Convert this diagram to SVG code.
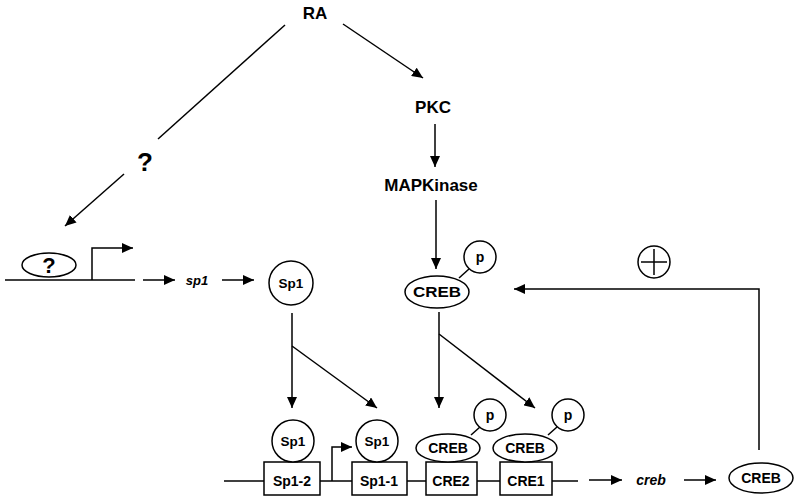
<svg xmlns="http://www.w3.org/2000/svg" width="800" height="502" viewBox="0 0 800 502">
<defs>
<marker id="ah" markerUnits="userSpaceOnUse" markerWidth="12" markerHeight="10" refX="11" refY="5" orient="auto">
<path d="M0,0 L11,5 L0,10 z" fill="#000"/>
</marker>
<style>
.ln{stroke:#000;stroke-width:1.5;fill:none}
.ar{stroke:#000;stroke-width:1.5;fill:none;marker-end:url(#ah)}
.sh{stroke:#000;stroke-width:1.5;fill:#fff}
text{font-family:"Liberation Sans",Arial,sans-serif;font-weight:bold;fill:#000;text-anchor:middle}
.it{font-style:italic}
</style>
</defs>
<rect width="800" height="502" fill="#fff"/>

<g id="connectors">
<line class="ln" x1="285" y1="25" x2="158" y2="139"/>
<line class="ar" x1="124" y1="174" x2="65" y2="226"/>
<line class="ar" x1="343" y1="24" x2="423" y2="78"/>
<line class="ar" x1="435" y1="124" x2="435" y2="167"/>
<line class="ar" x1="436" y1="200" x2="436" y2="269"/>
<line class="ar" x1="143" y1="280" x2="175" y2="280"/>
<line class="ar" x1="222" y1="280" x2="254" y2="280"/>
<line class="ar" x1="292" y1="313" x2="292" y2="408"/>
<line class="ar" x1="292" y1="346" x2="377" y2="408"/>
<line class="ar" x1="439" y1="312" x2="439" y2="408"/>
<line class="ar" x1="439" y1="334" x2="535" y2="408"/>
<line class="ar" x1="589" y1="480" x2="622" y2="480"/>
<line class="ar" x1="684" y1="480" x2="716" y2="480"/>
<polyline class="ar" points="759,450 759,289 514,289"/>
</g>

<g id="RA"><text x="315" y="19" font-size="17">RA</text></g>
<g id="unknown"><text x="145" y="171" font-size="26">?</text></g>
<g id="PKC"><text x="433" y="113" font-size="17">PKC</text></g>
<g id="MAPKinase"><text x="431" y="191" font-size="17">MAPKinase</text></g>

<g id="sp1-gene">
<line class="ln" x1="5" y1="280" x2="135" y2="280"/>
<ellipse class="sh" cx="49" cy="265" rx="27" ry="12"/>
<text x="49" y="273" font-size="22">?</text>
<polyline class="ar" points="92,280 92,248 133,248"/>
</g>
<g id="sp1-mrna"><text class="it" x="197" y="285" font-size="13">sp1</text></g>
<g id="Sp1-protein">
<circle class="sh" cx="291" cy="283" r="22"/>
<text x="291" y="288" font-size="13.5">Sp1</text>
</g>

<g id="pCREB">
<line class="ln" x1="459" y1="278" x2="469" y2="269"/>
<ellipse class="sh" cx="437" cy="292" rx="32" ry="16"/>
<text x="437" y="297" font-size="15" textLength="48" lengthAdjust="spacingAndGlyphs">CREB</text>
<circle class="sh" cx="480" cy="257" r="16"/>
<text x="480" y="262" font-size="14">p</text>
</g>

<g id="plus">
<circle class="sh" cx="654" cy="262" r="16"/>
<line class="ln" x1="641" y1="262" x2="667" y2="262"/>
<line class="ln" x1="654" y1="249" x2="654" y2="275"/>
</g>

<g id="creb-promoter">
<line class="ln" x1="224" y1="481" x2="578" y2="481"/>
<rect class="sh" x="264" y="462" width="56" height="33"/>
<text x="292" y="486" font-size="14">Sp1-2</text>
<rect class="sh" x="352" y="462" width="55" height="33"/>
<text x="379" y="486" font-size="14">Sp1-1</text>
<rect class="sh" x="426" y="462" width="51" height="33"/>
<text x="451" y="486" font-size="14">CRE2</text>
<rect class="sh" x="500" y="462" width="52" height="33"/>
<text x="526" y="486" font-size="14">CRE1</text>
<polyline class="ar" points="332,481 332,447 352,447"/>
</g>

<g id="Sp1-on-Sp1-2">
<circle class="sh" cx="293" cy="441" r="21"/>
<text x="293" y="446" font-size="13.5">Sp1</text>
</g>
<g id="Sp1-on-Sp1-1">
<circle class="sh" cx="377" cy="441" r="21"/>
<text x="377" y="446" font-size="13.5">Sp1</text>
</g>
<g id="pCREB-on-CRE2">
<line class="ln" x1="471" y1="435" x2="480" y2="427"/>
<ellipse class="sh" cx="448" cy="448" rx="32" ry="14"/>
<text x="448" y="453" font-size="14">CREB</text>
<circle class="sh" cx="490" cy="415" r="16"/>
<text x="490" y="420" font-size="14">p</text>
</g>
<g id="pCREB-on-CRE1">
<line class="ln" x1="548" y1="435" x2="557" y2="427"/>
<ellipse class="sh" cx="525" cy="448" rx="32" ry="14"/>
<text x="525" y="453" font-size="14">CREB</text>
<circle class="sh" cx="568" cy="415" r="16"/>
<text x="568" y="420" font-size="14">p</text>
</g>

<g id="creb-mrna"><text class="it" x="651" y="485" font-size="14">creb</text></g>
<g id="CREB-protein">
<ellipse class="sh" cx="761" cy="478" rx="32" ry="15"/>
<text x="761" y="483" font-size="14">CREB</text>
</g>
</svg>
